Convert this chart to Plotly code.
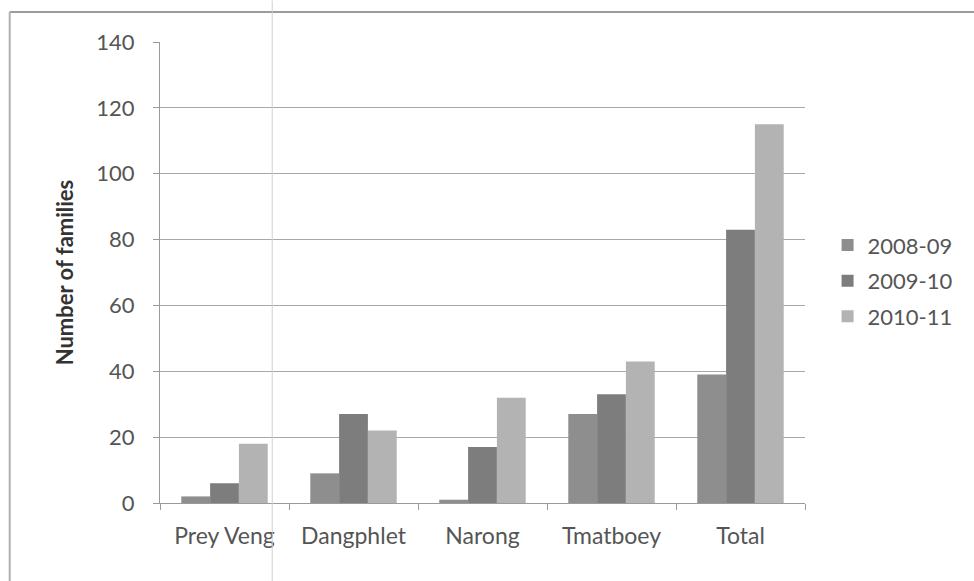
import plotly.graph_objects as go

# Families per site and season
sites = ["Prey Veng", "Dangphlet", "Narong", "Tmatboey", "Total"]
seasons = ["2008-09", "2009-10", "2010-11"]
fam_2008_09 = [2, 9, 1, 27, 39]
fam_2009_10 = [6, 27, 17, 33, 83]
fam_2010_11 = [18, 22, 32, 43, 115]
y_ticks = [0, 20, 40, 60, 80, 100, 120, 140]

series = [fam_2008_09, fam_2009_10, fam_2010_11]
colors = ["#8e8e8e", "#7d7d7d", "#b3b3b3"]

FONT = "Lato, Open Sans, sans-serif"

fig = go.Figure()
for name, vals, col in zip(seasons, series, colors):
    fig.add_trace(go.Bar(
        x=sites, y=vals, name=name, legendgroup=name,
        marker=dict(color=col, line=dict(width=0)),
    ))

fig.update_layout(
    width=974, height=581,
    margin=dict(l=160, r=169, t=42, b=78, autoexpand=False),
    paper_bgcolor="white", plot_bgcolor="white",
    barmode="group", bargap=0.33, bargroupgap=0,
    font=dict(family=FONT, size=22, color="#555555"),
    legend=dict(
        x=1.035, y=0.482, xanchor="left", yanchor="middle",
        font=dict(size=22, color="#555555"),
        tracegroupgap=4, itemwidth=30,
    ),
    showlegend=True,
)

fig.update_xaxes(
    type="category", showgrid=False,
    showline=True, linecolor="#9a9a9a", linewidth=1,
    ticks="outside", tickson="boundaries", ticklen=6, tickcolor="#9a9a9a",
    ticklabelstandoff=12,
    tickfont=dict(size=23, color="#555555"),
)
fig.update_yaxes(
    range=[0, 140], tickvals=y_ticks,
    showgrid=True, gridcolor="#a8a8a8", gridwidth=1,
    showline=True, linecolor="#9a9a9a", linewidth=1,
    ticks="outside", ticklen=6, tickcolor="#9a9a9a",
    ticklabelstandoff=14,
    tickfont=dict(size=22, color="#555555"),
    zeroline=False,
    title=dict(text="<b>Number of families</b>", standoff=16,
               font=dict(size=22, color="#333333", family=FONT)),
)

# Chart frame (top and left edges) and a faint vertical fold line
fig.add_shape(type="line", xref="paper", yref="paper",
              x0=-0.233, x1=1.27, y0=1.065, y1=1.065,
              line=dict(color="#9c9c9c", width=2))
fig.add_shape(type="line", xref="paper", yref="paper",
              x0=-0.233, x1=-0.233, y0=1.065, y1=-0.2,
              line=dict(color="#b0b0b0", width=2))
fig.add_shape(type="line", xref="paper", yref="paper",
              x0=0.174, x1=0.174, y0=1.09, y1=-0.2,
              line=dict(color="#d0d0d0", width=1))

fig.write_html("out.html")
